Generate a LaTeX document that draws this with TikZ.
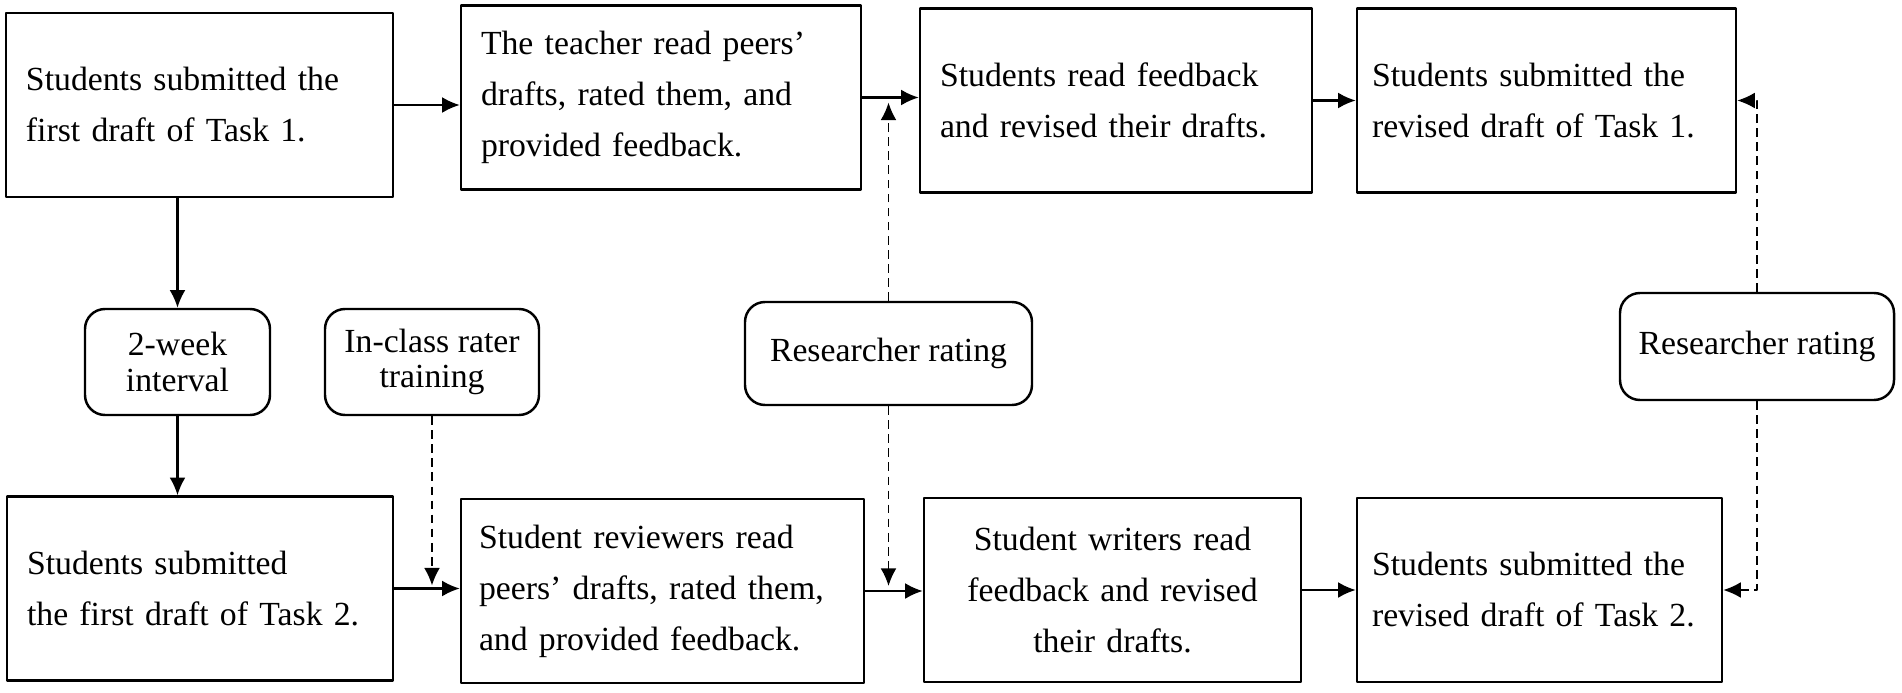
\documentclass[tikz,border=0pt]{standalone}
\usepackage{fontspec}
\setmainfont{Liberation Serif}
\usetikzlibrary{arrows.meta,calc}

\begin{document}
\begin{tikzpicture}[font=\fontsize{9.6}{14.5}\selectfont, line join=round, >={Latex[length=5pt,width=4.5pt]},
	box/.style={draw, line width=0.7pt, align=left, inner xsep=0.2cm, minimum height=1.84cm},
	note/.style={draw, line width=0.7pt, rounded corners=0.2cm, align=center, font=\fontsize{9.6}{10}\selectfont},
	link/.style={->, line width=0.6pt},
	dlink/.style={->, line width=0.5pt, dash pattern=on 2.5pt off 1.5pt}]
			\useasboundingbox (0,0) rectangle (19.02,6.92);
			% first task
			\node[box, text width=3.47cm] (A1) at (1.995,5.87) {Students submitted the\\first draft of Task 1.};
			\node[box, text width=3.60cm] (A2) at (6.61,5.945) {The teacher read peers’\\drafts, rated them, and\\provided feedback.};
			\node[box, text width=3.52cm] (A3) at (11.16,5.915) {Students read feedback\\and revised their drafts.};
			\node[box, inner xsep=0.15cm, text width=3.49cm] (A4) at (15.465,5.915) {Students submitted the\\revised draft of Task 1.};
			% middle notes
			\node[note, minimum width=1.85cm, minimum height=1.06cm] (M1) at (1.775,3.30) {2-week\\interval};
			\node[note, minimum width=2.14cm, minimum height=1.06cm] (M2) at (4.32,3.30) {In-class rater\\training};
			\node[note, minimum width=2.87cm, minimum height=1.03cm] (M3) at (8.885,3.385) {Researcher rating};
			\node[note, minimum width=2.74cm, minimum height=1.07cm] (M4) at (17.57,3.455) {Researcher rating};
			% second task
			\node[box, text width=3.46cm] (B1) at (2.00,1.035) {Students submitted\\the first draft of Task 2.};
			\node[box, inner xsep=0.18cm, text width=3.67cm] (B2) at (6.625,1.01) {Student reviewers read\\peers’ drafts, rated them,\\and provided feedback.};
			\node[box, text width=3.37cm, align=center] (B3) at (11.125,1.02) {Student writers read\\feedback and revised\\their drafts.};
			\node[box, inner xsep=0.15cm, text width=3.35cm] (B4) at (15.395,1.02) {Students submitted the\\revised draft of Task 2.};
			% arrows
			\draw[link] (A1.east) -- (A1.east -| A2.west);
			\draw[link] (A2.east) -- (A2.east -| A3.west);
			\draw[link] (A3.east) -- (A3.east -| A4.west);
			\draw[link] (M1.north |- A1.south) -- (M1.north);
			\draw[link] (M1.south) -- (M1.south |- B1.north);
			\draw[link] (B1.east) -- (B1.east -| B2.west);
			\draw[link] (B2.east) -- (B2.east -| B3.west);
			\draw[link] (B3.east) -- (B3.east -| B4.west);
			\draw[dlink] (M2.south) -- ($(M2.south |- B1.east)+(0,0.03)$);
			\draw[dlink] (M3.north) -- ($(M3.north |- A2.east)+(0,-0.05)$);
			\draw[dlink] (M3.south) -- ($(M3.south |- B2.east)+(0,0.05)$);
			\draw[dlink] (M4.north) |- (A4.east);
			\draw[dlink] (M4.south) |- (B4.east);
	\end{tikzpicture}
\end{document}
